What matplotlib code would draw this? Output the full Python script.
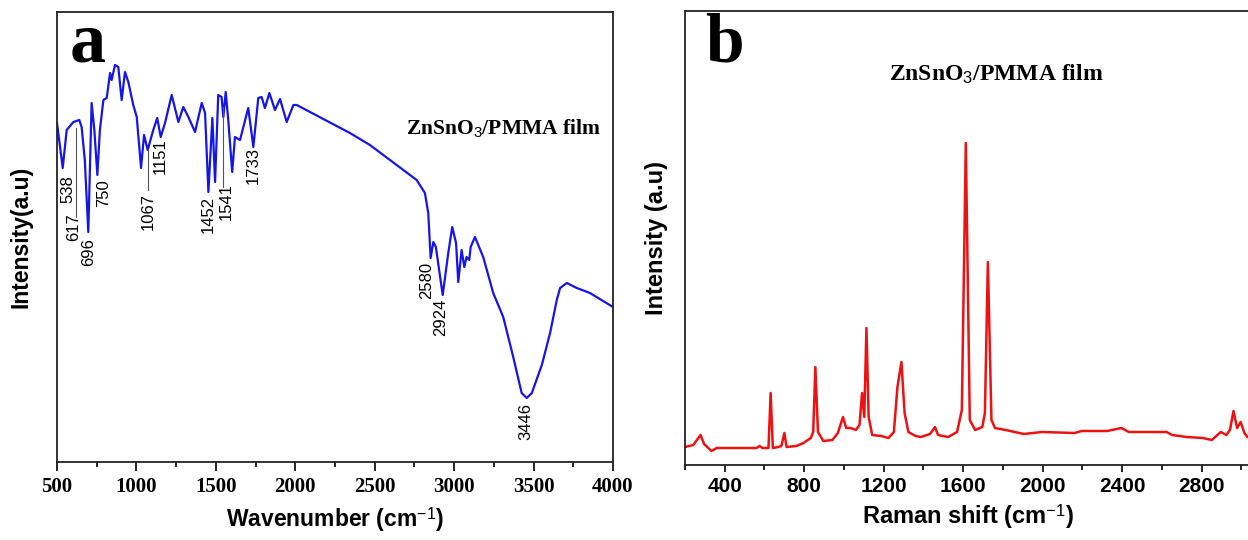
import matplotlib
matplotlib.use("Agg")
import matplotlib.pyplot as plt
from matplotlib.ticker import MultipleLocator

# --- FTIR spectrum (panel a) ---
ftir_wn = [500, 536, 561, 603, 640, 655, 675, 697, 718, 735, 754, 770, 792, 813, 834, 844,
           865, 886, 907, 928, 949, 980, 1002, 1029, 1048, 1071, 1106, 1131, 1153, 1180,
           1222, 1264, 1295, 1327, 1369, 1411, 1432, 1453, 1478, 1495, 1515, 1536, 1547,
           1562, 1578, 1603, 1620, 1652, 1704, 1736, 1767, 1788, 1809, 1837, 1872, 1904,
           1946, 1988, 2009, 2344, 2470, 2764, 2816, 2837, 2852, 2869, 2885, 2928, 2963,
           2988, 3012, 3026, 3047, 3064, 3078, 3095, 3104, 3131, 3183, 3246, 3309, 3372,
           3425, 3457, 3489, 3552, 3604, 3646, 3667, 3709, 3772, 3855, 4000]
ftir_y = [339, 294, 332, 340, 342, 335, 302, 230, 359, 332, 287, 332, 362, 364, 389, 382,
          397, 395, 362, 390, 380, 357, 345, 294, 327, 312, 332, 344, 325, 339,
          367, 340, 355, 345, 330, 359, 349, 270, 344, 280, 367, 365, 345,
          370, 342, 290, 325, 322, 354, 315, 364, 365, 354, 369, 352, 363,
          340, 357, 357, 329, 317, 282, 269, 249, 204, 220, 215, 167, 209,
          235, 219, 180, 212, 195, 205, 202, 215, 225, 205, 169, 145, 105,
          69, 64, 69, 97, 129, 162, 174, 179, 174, 169, 155]

ftir_peaks = ["538", "617", "696", "750", "1067", "1151", "1452", "1541", "1733",
              "2580", "2924", "3446"]
ftir_label_x = [571, 603, 697, 791, 1075, 1153, 1452, 1568, 1736, 2827, 2915, 3452]
ftir_label_y = [273, 235, 210, 269, 250, 306, 248, 260, 296, 182, 145, 41]
# leader lines (x, y_top, y_bottom)
leaders = [(618, 334, 245), (1071, 312, 272), (1547, 355, 275)]

# --- Raman spectrum (panel b) ---
raman_shift = [200, 242, 278, 296, 333, 360, 451, 560, 575, 590, 620, 631, 642, 669, 685, 700,
               711, 760, 796, 833, 845, 856, 869, 896, 942, 969, 995, 1011, 1033, 1060, 1078,
               1091, 1102, 1113, 1124, 1142, 1187, 1224, 1251, 1269, 1289, 1305, 1324, 1360,
               1387, 1433, 1458, 1473, 1524, 1569, 1593, 1613, 1633, 1660, 1696, 1709, 1724,
               1742, 1760, 1814, 1905, 1996, 2160, 2196, 2324, 2396, 2433, 2596, 2623, 2651,
               2724, 2805, 2851, 2896, 2924, 2942, 2960, 2978, 2996, 3015, 3029, 3050]
raman_int = [18, 20, 30, 21, 14, 17, 17, 17, 19, 17, 17, 72, 17, 18, 19, 32,
             18, 19, 22, 27, 33, 98, 33, 24, 25, 32, 48, 37, 37, 35, 40,
             72, 48, 137, 48, 30, 29, 27, 33, 78, 103, 52, 33, 29,
             28, 31, 38, 30, 28, 33, 55, 322, 45, 35, 38, 52, 203,
             45, 37, 35, 31, 33, 32, 34, 34, 37, 33, 33, 33, 30,
             28, 27, 25, 33, 30, 35, 54, 37, 43, 32, 28, 27]

plt.rcParams["mathtext.fontset"] = "custom"
plt.rcParams["mathtext.rm"] = "Liberation Sans"
plt.rcParams["mathtext.it"] = "Liberation Serif:bold"  # used for the serif subscript in titles

fig = plt.figure(figsize=(12.48, 5.4), dpi=100)
ax1 = fig.add_axes([57 / 1248, 78 / 540, 556 / 1248, 450 / 540])
ax2 = fig.add_axes([685 / 1248, 75 / 540, 566.4 / 1248, 454 / 540])

# panel a
ax1.plot(ftir_wn, ftir_y, color="#1515e8", lw=1.6)
ax1.set_xlim(500, 4000)
ax1.set_ylim(0, 450)
ax1.xaxis.set_major_locator(MultipleLocator(500))
ax1.xaxis.set_minor_locator(MultipleLocator(250))
ax1.set_yticks([])
ax1.tick_params(axis="x", which="major", length=6.5, width=1.2, pad=4)
ax1.tick_params(axis="x", which="minor", length=3.3, width=1.2)
for lab in ax1.get_xticklabels():
    lab.set_fontfamily("Liberation Serif")
    lab.set_fontweight("bold")
    lab.set_fontsize(15)
ax1.set_xlabel("Wavenumber (cm$^{-1}$)", fontsize=16.5, fontweight="bold",
               family="Liberation Sans", labelpad=6)
ax1.set_ylabel("Intensity(a.u)", fontsize=16.5, fontweight="bold",
               family="Liberation Sans", labelpad=18)
for name, x, y in zip(ftir_peaks, ftir_label_x, ftir_label_y):
    ax1.text(x, y, name, rotation=90, ha="center", va="center", fontsize=12,
             family="Liberation Sans")
for x, y0, y1 in leaders:
    ax1.plot([x, x], [y1, y0], color="#555555", lw=0.8)
ax1.text(3314, 334, r"ZnSnO$_{\mathit{3}}$/PMMA film", ha="center", va="center",
         fontsize=15.5, fontweight="bold", family="Liberation Serif")
ax1.text(0.023, 0.889, "a", transform=ax1.transAxes, fontsize=52, fontweight="bold",
         family="Liberation Serif", va="baseline")

# panel b
ax2.plot(raman_shift, raman_int, color="#ee1111", lw=1.8)
ax2.set_xlim(200, 3050)
ax2.set_ylim(0, 454)
ax2.xaxis.set_major_locator(MultipleLocator(400))
ax2.xaxis.set_minor_locator(MultipleLocator(200))
ax2.set_xticks(range(400, 3000, 400))
ax2.set_yticks([])
ax2.tick_params(axis="x", which="major", length=4.8, width=1.2, pad=4)
ax2.tick_params(axis="x", which="minor", length=3.6, width=1.2)
for lab in ax2.get_xticklabels():
    lab.set_fontfamily("Liberation Sans")
    lab.set_fontweight("bold")
    lab.set_fontsize(15)
ax2.set_xlabel("Raman shift (cm$^{-1}$)", fontsize=17, fontweight="bold",
               family="Liberation Sans", labelpad=4)
ax2.set_ylabel("Intensity (a.u)", fontsize=17, fontweight="bold",
               family="Liberation Sans", labelpad=12)
ax2.text(0.55, 0.86, r"ZnSnO$_{\mathit{3}}$/PMMA film", transform=ax2.transAxes,
         ha="center", va="center", fontsize=17, fontweight="bold", family="Liberation Serif")
ax2.text(0.035, 0.888, "b", transform=ax2.transAxes, fontsize=50, fontweight="bold",
         family="Liberation Serif", va="baseline")

for ax in (ax1, ax2):
    for sp in ax.spines.values():
        sp.set_linewidth(1.3)
        sp.set_color("#222222")

fig.savefig("out.png", dpi=100)
